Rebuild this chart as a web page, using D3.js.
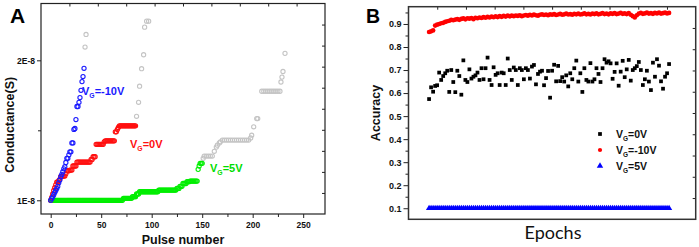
<!DOCTYPE html>
<html>
<head>
<meta charset="utf-8">
<script src="https://cdn.jsdelivr.net/npm/d3@7"></script>
<style>
  body { margin: 0; background: #fff; }
  svg { display: block; }
</style>
</head>
<body>
<div id="chart"></div>
<script>
// ---- Panel A: conductance (units of 1E-8 S) vs pulse number, index = pulse ----
const blueG = [1.000, 1.012, 1.025, 1.040, 1.055, 1.070, 1.085, 1.100, 1.125, 1.145, 1.168, 1.185,
  1.204, 1.225, 1.240, 1.270, 1.300, 1.300, 1.325, 1.346, 1.346, 1.410, 1.410, 1.506,
  1.513, 1.577, 1.670, 1.670, 1.700, 1.734, 1.786, 1.848, 1.884, 1.943];

const redG = [1.000, 1.020, 1.045, 1.070, 1.090, 1.110, 1.130, 1.130, 1.140, 1.150, 1.170, 1.170,
  1.173, 1.173, 1.173, 1.190, 1.211, 1.211, 1.211, 1.216, 1.216, 1.216, 1.245, 1.245,
  1.245, 1.245, 1.273, 1.273, 1.273, 1.273, 1.273, 1.273, 1.273, 1.273, 1.273, 1.273,
  1.273, 1.273, 1.273, 1.273, 1.292, 1.292, 1.311, 1.311, 1.311, 1.400, 1.400, 1.400,
  1.400, 1.400, 1.400, 1.400, 1.400, 1.418, 1.425, 1.425, 1.425, 1.425, 1.425, 1.425,
  1.425, 1.425, 1.425, 1.425, 1.489, 1.489, 1.506, 1.520, 1.532, 1.532, 1.532, 1.532,
  1.532, 1.532, 1.532, 1.532, 1.532, 1.532, 1.532, 1.532, 1.532, 1.532, 1.532, 1.532, 1.532];

const greenG = [1.000, 1.000, 1.000, 1.000, 1.000, 1.000, 1.000, 1.000, 1.000, 1.000, 1.000, 1.000,
  1.000, 1.000, 1.000, 1.000, 1.000, 1.000, 1.000, 1.000, 1.000, 1.000, 1.000, 1.000,
  1.000, 1.000, 1.000, 1.000, 1.000, 1.000, 1.000, 1.000, 1.000, 1.000, 1.000, 1.000,
  1.000, 1.000, 1.000, 1.000, 1.000, 1.000, 1.000, 1.000, 1.000, 1.000, 1.000, 1.000,
  1.000, 1.000, 1.000, 1.000, 1.000, 1.000, 1.000, 1.000, 1.000, 1.000, 1.000, 1.000,
  1.000, 1.000, 1.000, 1.000, 1.000, 1.000, 1.000, 1.000, 1.000, 1.000, 1.000, 1.000,
  1.014, 1.014, 1.014, 1.014, 1.014, 1.014, 1.014, 1.014, 1.014, 1.026, 1.026, 1.026,
  1.026, 1.045, 1.045, 1.045, 1.061, 1.061, 1.061, 1.061, 1.061, 1.061, 1.061, 1.061,
  1.061, 1.061, 1.061, 1.061, 1.061, 1.061, 1.061, 1.061, 1.061, 1.061, 1.061, 1.073,
  1.073, 1.073, 1.073, 1.073, 1.073, 1.073, 1.073, 1.073, 1.073, 1.073, 1.073, 1.073,
  1.073, 1.073, 1.073, 1.073, 1.073, 1.085, 1.085, 1.085, 1.100, 1.100, 1.100, 1.120,
  1.120, 1.120, 1.120, 1.133, 1.133, 1.133, 1.137, 1.137, 1.137, 1.137, 1.137, 1.137,
  1.137, 1.137, 1.221, 1.245, 1.264, 1.264, 1.264];

// light grey continuation points (pulse, conductance)
const grayPulse = [34, 35, 85, 87, 88, 90, 92, 93, 95, 97,
  151, 152, 154, 156, 158, 160, 162, 164, 165, 167, 168, 170, 172, 174, 176, 178, 180,
  182, 184, 186, 188, 190, 192, 194, 196, 198, 199, 201, 204, 205,
  209, 211, 213, 215, 217, 219, 221, 223, 225, 227, 228, 229, 230, 232];
const grayG = [2.095, 2.185, 1.600, 1.700, 1.815, 1.940, 2.040, 2.237, 2.280, 2.280,
  1.300, 1.316, 1.316, 1.316, 1.316, 1.316, 1.350, 1.380, 1.394, 1.410, 1.418, 1.430, 1.430, 1.430, 1.430, 1.430, 1.430,
  1.430, 1.430, 1.430, 1.430, 1.430, 1.430, 1.430, 1.430, 1.445, 1.465, 1.525, 1.584, 1.584,
  1.779, 1.779, 1.779, 1.779, 1.779, 1.779, 1.779, 1.779, 1.779, 1.779, 1.845, 1.880, 1.920, 2.050];

const pulseTicks = [0, 50, 100, 150, 200, 250];
const condTicks = [1, 2];

// ---- Panel B: accuracy per epoch, index + 1 = epoch ----
const acc0V = [0.574, 0.625, 0.606, 0.631, 0.634, 0.689, 0.657, 0.674, 0.686, 0.697, 0.605, 0.700,
  0.648, 0.604, 0.697, 0.674, 0.593, 0.742, 0.657, 0.648, 0.703, 0.663, 0.671, 0.677,
  0.689, 0.657, 0.708, 0.660, 0.708, 0.754, 0.657, 0.635, 0.712, 0.679, 0.686, 0.635,
  0.689, 0.686, 0.635, 0.750, 0.700, 0.657, 0.711, 0.700, 0.635, 0.708, 0.700, 0.660,
  0.708, 0.700, 0.663, 0.715, 0.722, 0.638, 0.683, 0.693, 0.697, 0.634, 0.665, 0.696,
  0.580, 0.697, 0.723, 0.651, 0.718, 0.652, 0.669, 0.650, 0.677, 0.629, 0.686, 0.660,
  0.708, 0.741, 0.650, 0.686, 0.605, 0.708, 0.657, 0.650, 0.730, 0.650, 0.660, 0.708,
  0.683, 0.648, 0.708, 0.747, 0.732, 0.738, 0.729, 0.662, 0.692, 0.729, 0.632, 0.693,
  0.740, 0.669, 0.703, 0.744, 0.654, 0.700, 0.708, 0.717, 0.735, 0.700, 0.635, 0.660,
  0.697, 0.650, 0.613, 0.732, 0.671, 0.747, 0.719, 0.651, 0.619, 0.671, 0.686, 0.726];

const accM10V = [0.865, 0.868, 0.872, 0.893, 0.897, 0.900, 0.903, 0.905, 0.909, 0.912, 0.914, 0.918,
  0.916, 0.919, 0.921, 0.918, 0.922, 0.924, 0.920, 0.925, 0.923, 0.926, 0.921, 0.927,
  0.925, 0.928, 0.926, 0.930, 0.927, 0.931, 0.928, 0.932, 0.929, 0.933, 0.930, 0.934,
  0.931, 0.935, 0.932, 0.936, 0.933, 0.936, 0.934, 0.937, 0.935, 0.938, 0.934, 0.937,
  0.939, 0.936, 0.940, 0.937, 0.941, 0.938, 0.936, 0.940, 0.942, 0.939, 0.941, 0.938,
  0.942, 0.940, 0.943, 0.939, 0.941, 0.944, 0.940, 0.942, 0.945, 0.941, 0.943, 0.940,
  0.944, 0.942, 0.945, 0.941, 0.943, 0.946, 0.942, 0.944, 0.941, 0.945, 0.943, 0.946,
  0.942, 0.944, 0.947, 0.943, 0.945, 0.942, 0.946, 0.944, 0.947, 0.943, 0.945, 0.948,
  0.944, 0.946, 0.943, 0.947, 0.940, 0.934, 0.928, 0.938, 0.945, 0.948, 0.944, 0.946,
  0.949, 0.945, 0.947, 0.944, 0.948, 0.946, 0.949, 0.945, 0.947, 0.950, 0.946, 0.948];

const acc5V = [0.1, 0.1, 0.1, 0.1, 0.1, 0.1, 0.1, 0.1, 0.1, 0.1, 0.1, 0.1, 0.1, 0.1, 0.1, 0.1, 0.1, 0.1, 0.1, 0.1,
  0.1, 0.1, 0.1, 0.1, 0.1, 0.1, 0.1, 0.1, 0.1, 0.1, 0.1, 0.1, 0.1, 0.1, 0.1, 0.1, 0.1, 0.1, 0.1, 0.1,
  0.1, 0.1, 0.1, 0.1, 0.1, 0.1, 0.1, 0.1, 0.1, 0.1, 0.1, 0.1, 0.1, 0.1, 0.1, 0.1, 0.1, 0.1, 0.1, 0.1,
  0.1, 0.1, 0.1, 0.1, 0.1, 0.1, 0.1, 0.1, 0.1, 0.1, 0.1, 0.1, 0.1, 0.1, 0.1, 0.1, 0.1, 0.1, 0.1, 0.1,
  0.1, 0.1, 0.1, 0.1, 0.1, 0.1, 0.1, 0.1, 0.1, 0.1, 0.1, 0.1, 0.1, 0.1, 0.1, 0.1, 0.1, 0.1, 0.1, 0.1,
  0.1, 0.1, 0.1, 0.1, 0.1, 0.1, 0.1, 0.1, 0.1, 0.1, 0.1, 0.1, 0.1, 0.1, 0.1, 0.1, 0.1, 0.1, 0.1, 0.1];

const accTicks = [0.1, 0.2, 0.3, 0.4, 0.5, 0.6, 0.7, 0.8, 0.9];
const accMinor = [0.15, 0.25, 0.35, 0.45, 0.55, 0.65, 0.75, 0.85, 0.95];

const legendB = [
  {sub: "G", rest: "=0V", color: "#000", shape: d3.symbolSquare},
  {sub: "G", rest: "=-10V", color: "#ff0000", shape: d3.symbolCircle},
  {sub: "G", rest: "=5V", color: "#0000ff", shape: d3.symbolTriangle},
];

const W = 699, H = 247;
const FONT = "'Liberation Sans', Arial, sans-serif";

const svg = d3.select("#chart").append("svg")
  .attr("width", W).attr("height", H)
  .attr("viewBox", [0, 0, W, H])
  .style("font-family", FONT);

// label like V_G=0V with subscript G
function vgText(g, x, y, rest, color, size) {
  const t = g.append("text").attr("x", x).attr("y", y)
    .attr("fill", color).attr("font-size", size).attr("font-weight", "bold");
  t.append("tspan").text("V");
  t.append("tspan").attr("font-size", size * 0.62).attr("dy", size * 0.28).text("G");
  t.append("tspan").attr("dy", -size * 0.28).text(rest);
  return t;
}

function styleAxis(sel, size) {
  sel.select(".domain").remove();
  sel.selectAll("line").attr("stroke", "#222").attr("stroke-width", 1);
  sel.selectAll("text").attr("font-size", size).attr("font-weight", "bold")
    .attr("fill", "#111").style("font-family", FONT);
}

// ================= Panel A =================
const A = {l: 41, r: 325, t: 3.5, b: 214};
const xA = d3.scaleLinear().domain([-9.6, 271.6]).range([A.l, A.r]);
const yA = d3.scaleLinear().domain([0.902, 2.406]).range([A.b, A.t]);
const divAx = d3.scaleLinear().domain([0, 10]).range([A.l, A.r]);
const divAy = d3.scaleLinear().domain([0, 10]).range([A.b, A.t]);

const gA = svg.append("g");

gA.append("g").attr("transform", `translate(0,${A.b})`)
  .call(d3.axisBottom(xA).tickValues([25, 75, 125, 175, 225]).tickSize(3).tickFormat(""))
  .call(s => styleAxis(s, 8.5));
gA.append("g").attr("transform", `translate(0,${A.b})`)
  .call(d3.axisBottom(xA).tickValues(pulseTicks).tickSize(4).tickPadding(4))
  .call(s => styleAxis(s, 8.5));
gA.append("g").attr("transform", `translate(${A.l},0)`)
  .call(d3.axisLeft(yA).tickValues([1.5]).tickSize(3).tickFormat(""))
  .call(s => styleAxis(s, 8.5));
gA.append("g").attr("transform", `translate(${A.l},0)`)
  .call(d3.axisLeft(yA).tickValues(condTicks).tickSize(4).tickPadding(2).tickFormat(d => d + "E-8"))
  .call(s => styleAxis(s, 8.5));
gA.append("g").attr("transform", `translate(0,${A.t})`)
  .call(d3.axisTop(divAx).tickValues(d3.range(1, 10)).tickSize(-3).tickFormat(""))
  .call(s => styleAxis(s, 8));
gA.append("g").attr("transform", `translate(${A.r},0)`)
  .call(d3.axisRight(divAy).tickValues(d3.range(1, 10)).tickSize(-3).tickFormat(""))
  .call(s => styleAxis(s, 8));

gA.append("rect").attr("x", A.l).attr("y", A.t)
  .attr("width", A.r - A.l).attr("height", A.b - A.t)
  .attr("fill", "none").attr("stroke", "#222").attr("stroke-width", 1.2);

function openCircles(g, xs, ys, color) {
  g.append("g").selectAll("circle").data(ys).join("circle")
    .attr("cx", (d, i) => xA(xs ? xs[i] : i))
    .attr("cy", d => yA(d))
    .attr("r", 2.1)
    .attr("fill", "none").attr("stroke", color).attr("stroke-width", 1.1);
}
openCircles(gA, grayPulse, grayG, "#c4c4c4");
openCircles(gA, null, greenG, "#00ee00");
openCircles(gA, null, redG, "#ff1010");
openCircles(gA, null, blueG, "#1a1aff");

vgText(gA, 82, 95, "=-10V", "#1a1aff", 11);
vgText(gA, 130, 148, "=0V", "#ff1010", 11);
vgText(gA, 210, 172, "=5V", "#00dd00", 11);

gA.append("text").attr("x", 10).attr("y", 23)
  .attr("font-size", 21).attr("font-weight", "bold").text("A");
gA.append("text").attr("transform", `translate(14,${(A.t + A.b) / 2 + 16}) rotate(-90)`)
  .attr("text-anchor", "middle").attr("font-size", 12.5).attr("font-weight", "bold")
  .attr("fill", "#111").text("Conductance(S)");
gA.append("text").attr("x", 183).attr("y", 243.5)
  .attr("text-anchor", "middle").attr("font-size", 12.5).attr("font-weight", "bold")
  .attr("fill", "#111").text("Pulse number");

// ================= Panel B =================
const B = {l: 408.5, r: 695.7, t: 6.7, b: 219.3};
const xB = d3.scaleLinear().domain([-9.2, 133.2]).range([B.l, B.r]);
const yB = d3.scaleLinear().domain([0.052, 0.975]).range([B.b, B.t]);
const divBx = d3.scaleLinear().domain([0, 10]).range([B.l, B.r]);
const divBy = d3.scaleLinear().domain([0, 10]).range([B.b, B.t]);

const gB = svg.append("g");

gB.append("g").attr("transform", `translate(${B.l},0)`)
  .call(d3.axisLeft(yB).tickValues(accMinor.filter(v => v < 0.97)).tickSize(3).tickFormat(""))
  .call(s => styleAxis(s, 9));
gB.append("g").attr("transform", `translate(${B.l},0)`)
  .call(d3.axisLeft(yB).tickValues(accTicks).tickSize(5).tickPadding(2).tickFormat(d3.format(".1f")))
  .call(s => styleAxis(s, 9));
gB.append("g").attr("transform", `translate(0,${B.t})`)
  .call(d3.axisTop(divBx).tickValues(d3.range(1, 10)).tickSize(-3).tickFormat(""))
  .call(s => styleAxis(s, 8));
gB.append("g").attr("transform", `translate(${B.r},0)`)
  .call(d3.axisRight(divBy).tickValues(d3.range(1, 10)).tickSize(-3).tickFormat(""))
  .call(s => styleAxis(s, 8));

gB.append("rect").attr("x", B.l).attr("y", B.t)
  .attr("width", B.r - B.l).attr("height", B.b - B.t)
  .attr("fill", "none").attr("stroke", "#333").attr("stroke-width", 1.5);

function symbols(g, ys, shape, size, color) {
  g.append("g").selectAll("path").data(ys).join("path")
    .attr("transform", (d, i) => `translate(${xB(i + 1)},${yB(d)})`)
    .attr("d", d3.symbol().type(shape).size(size))
    .attr("fill", color);
}
symbols(gB, acc5V, d3.symbolTriangle, 17, "#0000ff");
symbols(gB, acc0V, d3.symbolSquare, 14, "#000");
symbols(gB, accM10V, d3.symbolCircle, 17, "#ff0000");

const legY = d3.scaleBand().domain(legendB.map((d, i) => i)).range([126, 174]);
legendB.forEach((d, i) => {
  const cy = legY(i) + legY.bandwidth() / 2;
  gB.append("path").attr("transform", `translate(600,${cy})`)
    .attr("d", d3.symbol().type(d.shape).size(d.shape === d3.symbolTriangle ? 18 : 14))
    .attr("fill", d.color);
  vgText(gB, 616, cy + 4, d.rest, "#111", 10.5);
});

gB.append("text").attr("x", 366).attr("y", 23)
  .attr("font-size", 19.5).attr("font-weight", "bold").text("B");
gB.append("text").attr("transform", `translate(380,${(B.t + B.b) / 2}) rotate(-90)`)
  .attr("text-anchor", "middle").attr("font-size", 12.5).attr("font-weight", "bold")
  .attr("fill", "#111").text("Accuracy");
gB.append("text").attr("x", 553).attr("y", 239)
  .attr("text-anchor", "middle").attr("font-size", 18)
  .style("font-family", "Lato, 'Open Sans', sans-serif").attr("fill", "#111")
  .text("Epochs");
</script>
</body>
</html>
